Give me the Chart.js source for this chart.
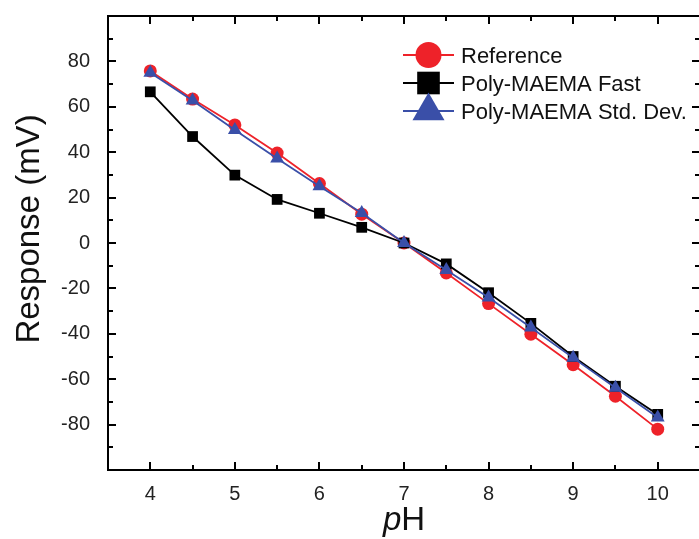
<!DOCTYPE html>
<html>
<head>
<meta charset="utf-8">
<style>
  html, body { margin: 0; padding: 0; background: #fff; overflow: hidden; }
  #wrap { width: 700px; height: 539px; }
</style>
<script src="https://cdn.jsdelivr.net/npm/chart.js@4/dist/chart.umd.min.js"></script>
</head>
<body>
<div id="wrap"><canvas id="c" width="700" height="539"></canvas></div>
<script>
// pH steps of the calibration run
const phValues = [4, 4.5, 5, 5.5, 6, 6.5, 7, 7.5, 8, 8.5, 9, 9.5, 10];

// Electrode response (mV) for each sensor
const referenceResponse = [75.8, 63.4, 52.0, 39.6, 26.2, 12.7, 0, -13.2, -26.7, -40.2, -53.6, -67.5, -82.0];
const fastResponse      = [66.6, 46.9, 29.9, 19.2, 13.1, 6.9, 0, -9.2, -21.9, -35.4, -50.0, -63.1, -75.5];
const stdDevResponse    = [75.0, 62.8, 49.8, 37.2, 25.0, 13.2, 0, -11.9, -24.0, -37.2, -50.6, -63.8, -76.9];

const seriesLabels = ['Reference', 'Poly-MAEMA Fast', 'Poly-MAEMA Std. Dev.'];

// Axis ticks
const xTickValues = [4, 5, 6, 7, 8, 9, 10];
const xMinorValues = [4.5, 5.5, 6.5, 7.5, 8.5, 9.5];
const yTickValues = [-80, -60, -40, -20, 0, 20, 40, 60, 80];
const yMinorValues = [-90, -70, -50, -30, -10, 10, 30, 50, 70, 90];

const FONT = '"Liberation Sans", Arial, sans-serif';
const RED = '#ee2229';
const BLACK = '#000000';
const BLUE = '#3a4fa8';

const toPoints = (ys) => phValues.map((x, i) => ({ x: x, y: ys[i] }));

// Box frame with inward major/minor ticks on all four sides
const frameTicks = {
  id: 'frameTicks',
  afterDatasetsDraw(chart) {
    const { ctx, chartArea: a, scales: { x, y } } = chart;
    ctx.save();
    ctx.strokeStyle = '#000';
    ctx.lineWidth = 2;
    ctx.strokeRect(a.left, a.top, a.right - a.left, a.bottom - a.top);
    ctx.lineWidth = 2;
    const major = 8, minor = 5;
    ctx.beginPath();
    const xt = (v, len) => {
      const px = Math.round(x.getPixelForValue(v));
      ctx.moveTo(px, a.bottom); ctx.lineTo(px, a.bottom - len);
      ctx.moveTo(px, a.top); ctx.lineTo(px, a.top + len);
    };
    const yt = (v, len) => {
      const py = Math.round(y.getPixelForValue(v));
      ctx.moveTo(a.left, py); ctx.lineTo(a.left + len, py);
      ctx.moveTo(a.right, py); ctx.lineTo(a.right - len, py);
    };
    xTickValues.forEach(v => xt(v, major));
    xMinorValues.forEach(v => xt(v, minor));
    yTickValues.forEach(v => yt(v, major));
    yMinorValues.forEach(v => yt(v, minor));
    ctx.stroke();
    ctx.restore();
  }
};

// Axis titles: rotated y title and "pH" with an italic p
const axisTitles = {
  id: 'axisTitles',
  afterDraw(chart) {
    const { ctx, chartArea: a } = chart;
    ctx.save();
    ctx.fillStyle = '#111';
    // y title
    ctx.save();
    ctx.translate(39, 229);
    ctx.rotate(-Math.PI / 2);
    ctx.font = '33px ' + FONT;
    ctx.textAlign = 'center';
    ctx.textBaseline = 'alphabetic';
    ctx.fillText('Response (mV)', 0, 0);
    ctx.restore();
    // x title
    const italic = 'italic 33px ' + FONT;
    const normal = '33px ' + FONT;
    ctx.font = italic;
    const wp = ctx.measureText('p').width;
    ctx.font = normal;
    const wh = ctx.measureText('H').width;
    const cx = (a.left + a.right) / 2;
    const start = cx - (wp + wh) / 2;
    ctx.textBaseline = 'alphabetic';
    ctx.textAlign = 'left';
    ctx.font = italic;
    ctx.fillText('p', start, 530);
    ctx.font = normal;
    ctx.fillText('H', start + wp, 530);
    ctx.restore();
  }
};

// Legend drawn as line-plus-marker samples inside the plot
const lineLegend = {
  id: 'lineLegend',
  afterDraw(chart) {
    const { ctx } = chart;
    const rows = [55, 83, 111];
    const sizes = [13, 16, 18.5];
    ctx.save();
    chart.data.datasets.forEach((ds, i) => {
      const yy = rows[i];
      ctx.strokeStyle = ds.borderColor;
      ctx.lineWidth = 2;
      ctx.beginPath();
      ctx.moveTo(403, yy);
      ctx.lineTo(454, yy);
      ctx.stroke();
      ctx.fillStyle = ds.pointBackgroundColor;
      ctx.strokeStyle = ds.pointBackgroundColor;
      Chart.helpers.drawPoint(ctx, { pointStyle: ds.pointStyle, radius: sizes[i], borderWidth: 0, rotation: 0 }, 428.5, yy);
      ctx.fillStyle = '#111';
      ctx.font = '22px ' + FONT;
      ctx.textAlign = 'left';
      ctx.textBaseline = 'alphabetic';
      ctx.fillText(ds.label, 461, yy + 8);
    });
    ctx.restore();
  }
};

new Chart(document.getElementById('c'), {
  type: 'line',
  data: {
    datasets: [
      {
        label: seriesLabels[0],
        data: toPoints(referenceResponse),
        borderColor: RED,
        backgroundColor: RED,
        pointBackgroundColor: RED,
        pointBorderColor: RED,
        pointStyle: 'circle',
        pointRadius: 6.5,
        pointBorderWidth: 0,
        borderWidth: 1.8,
        order: 3
      },
      {
        label: seriesLabels[1],
        data: toPoints(fastResponse),
        borderColor: BLACK,
        backgroundColor: BLACK,
        pointBackgroundColor: BLACK,
        pointBorderColor: BLACK,
        pointStyle: 'rect',
        pointRadius: 7.6,
        pointBorderWidth: 0,
        borderWidth: 1.8,
        order: 2
      },
      {
        label: seriesLabels[2],
        data: toPoints(stdDevResponse),
        borderColor: BLUE,
        backgroundColor: BLUE,
        pointBackgroundColor: BLUE,
        pointBorderColor: BLUE,
        pointStyle: 'triangle',
        pointRadius: 8,
        pointBorderWidth: 0,
        borderWidth: 1.8,
        order: 1
      }
    ]
  },
  options: {
    responsive: false,
    animation: false,
    devicePixelRatio: 1,
    layout: { autoPadding: false, padding: { top: 16, right: 0, bottom: 0, left: 0 } },
    plugins: {
      legend: { display: false },
      tooltip: { enabled: false }
    },
    scales: {
      x: {
        type: 'linear',
        min: 3.5,
        max: 10.5,
        grid: { display: false },
        border: { display: false },
        afterBuildTicks: (s) => { s.ticks = xTickValues.map(v => ({ value: v })); },
        afterFit: (s) => { s.height = 69; s.paddingLeft = 0; s.paddingRight = 0; },
        ticks: {
          padding: 4,
          color: '#222',
          font: { family: FONT, size: 20 },
          maxRotation: 0,
          callback: (v) => String(v)
        }
      },
      y: {
        type: 'linear',
        min: -100,
        max: 100,
        grid: { display: false },
        border: { display: false },
        afterBuildTicks: (s) => { s.ticks = yTickValues.map(v => ({ value: v })); },
        afterFit: (s) => { s.width = 108; s.paddingTop = 0; s.paddingBottom = 0; },
        ticks: {
          padding: 10,
          color: '#222',
          font: { family: FONT, size: 20 },
          callback: (v) => String(v)
        }
      }
    }
  },
  plugins: [frameTicks, axisTitles, lineLegend]
});
</script>
</body>
</html>
